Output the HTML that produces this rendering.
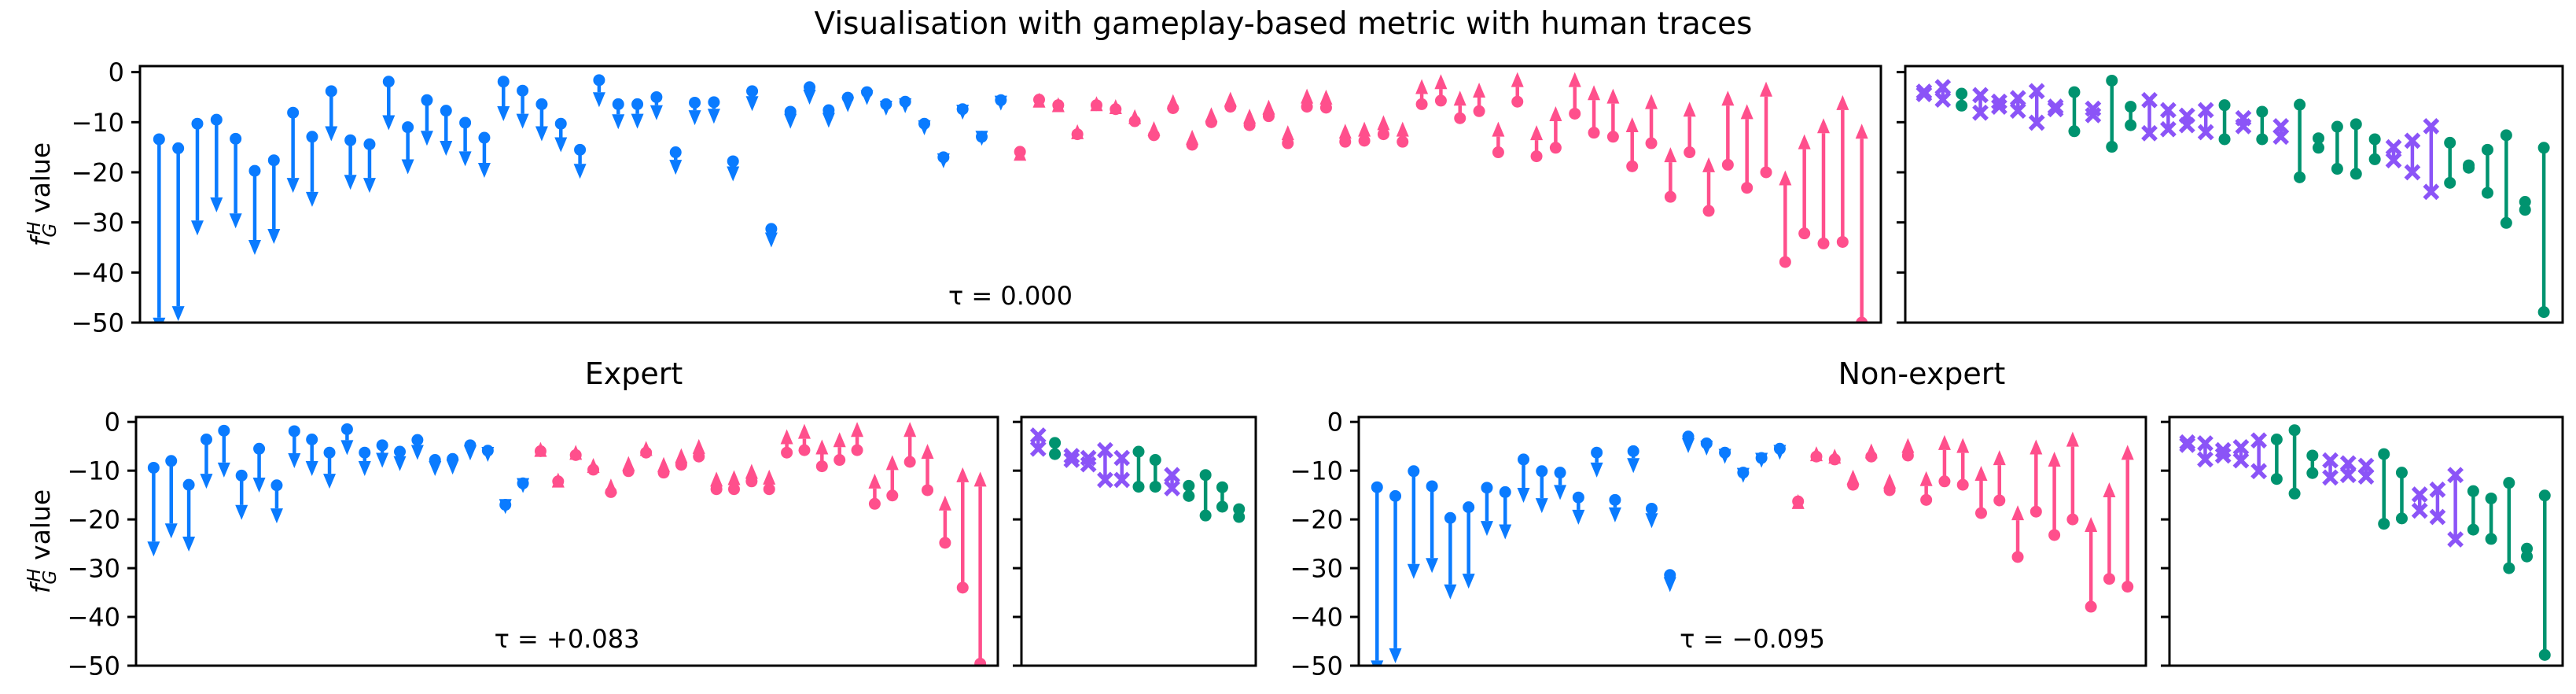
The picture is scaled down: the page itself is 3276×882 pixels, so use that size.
<!DOCTYPE html>
<html><head><meta charset="utf-8">
<style>
html,body{margin:0;padding:0;background:#fff;}
svg{display:block;font-family:"DejaVu Sans","Liberation Sans",sans-serif;}
</style></head>
<body>
<svg id="fig" width="3276" height="882" viewBox="0 0 3276 882" xmlns="http://www.w3.org/2000/svg">
<text x="1632" y="43" font-size="39" text-anchor="middle">Visualisation with gameplay-based metric with human traces</text>
<text x="806" y="488" font-size="38" text-anchor="middle">Expert</text>
<text x="2444" y="488" font-size="38" text-anchor="middle">Non-expert</text>
</svg>
<script>
// ===== Data =====
const yTicks = [0, -10, -20, -30, -40, -50];
const yTickLabels = ["0", "\u221210", "\u221220", "\u221230", "\u221240", "\u221250"];

// Top main panel (all traces): start value (dot) and end value (arrow tip)
const topStart = [-13.4,-15.2,-10.3,-9.5,-13.3,-19.7,-17.6,-8.1,-12.9,-3.8,-13.6,-14.4,-1.9,-11.0,-5.6,-7.7,-10.1,-13.1,-1.9,-3.7,-6.4,-10.3,-15.5,-1.6,-6.4,-6.4,-5.0,-16.0,-6.1,-6.0,-17.8,-3.8,-31.3,-7.9,-3.0,-7.6,-5.1,-4.0,-6.4,-5.9,-10.3,-17.0,-7.4,-12.9,-5.6,
 -15.9,-5.5,-6.6,-12.4,-6.6,-7.4,-9.8,-12.6,-7.2,-14.5,-10.0,-6.9,-10.6,-8.8,-14.2,-6.9,-7.1,-13.9,-13.7,-12.4,-13.9,-6.4,-5.7,-9.2,-7.8,-16.0,-5.9,-16.8,-15.1,-8.3,-12.1,-12.9,-18.8,-14.2,-24.9,-16.0,-27.7,-18.5,-23.1,-20.0,-37.9,-32.2,-34.2,-33.9,-50];
const topEnd = [-52,-49.7,-32.6,-28,-31.2,-36.5,-34.3,-24.1,-26.9,-13.8,-23.5,-24.1,-11.6,-20.4,-14.7,-16.7,-18.8,-21.1,-9.8,-11.3,-13.8,-16.0,-21.3,-7.0,-11.4,-11.3,-9.6,-20.5,-10.6,-10.3,-21.8,-7.8,-35.0,-11.3,-6.5,-11.1,-8.0,-6.6,-8.7,-8.2,-12.6,-19.2,-9.5,-14.7,-7.7,
 -14.7,-4.1,-5.0,-10.4,-4.8,-5.4,-7.4,-9.8,-4.4,-11.5,-7.0,-3.9,-7.3,-5.5,-10.6,-3.3,-3.5,-10.3,-9.9,-8.6,-9.9,-1.4,-0.4,-3.7,-2.1,-9.9,0,-10.6,-6.8,0,-2.6,-3.3,-9.0,-4.4,-15.0,-5.9,-17.0,-3.7,-6.4,-1.9,-19.6,-12.4,-9.2,-4.6,-10.3];

// Top small panel (pairs): type X = purple cross, G = green dot
const topPairType = ["X","X","G","X","X","X","X","X","G","X","G","G","X","X","X","X","G","X","G","X","G","G","G","G","G","X","X","X","G","G","G","G","G","G"];
const topPairA = [-3.9,-3.0,-4.3,-4.6,-5.9,-5.2,-3.8,-6.9,-4.0,-7.3,-1.7,-6.9,-5.6,-7.6,-8.7,-7.6,-6.6,-9.2,-7.9,-10.8,-6.5,-13.2,-10.9,-10.4,-13.4,-15.0,-13.7,-10.8,-14.1,-18.6,-15.5,-12.6,-25.9,-15.1];
const topPairB = [-4.4,-5.5,-6.7,-8.1,-6.9,-7.7,-10.1,-7.4,-11.8,-8.6,-14.9,-10.6,-12.2,-11.4,-10.6,-12.0,-13.4,-10.8,-13.4,-12.9,-21.0,-15.1,-19.3,-20.3,-17.4,-17.6,-20.0,-23.9,-22.1,-19.1,-24.1,-30.1,-27.5,-47.9];

// Expert main panel
const expStart = [-9.4,-8.0,-12.9,-3.6,-1.8,-11.0,-5.5,-13.0,-1.9,-3.6,-6.3,-1.5,-6.3,-4.8,-6.1,-3.7,-7.8,-7.6,-4.8,-5.9,-17.0,-12.6,
 -6.0,-12.2,-6.8,-9.8,-14.4,-10.1,-6.3,-10.4,-8.8,-7.1,-13.8,-13.8,-12.2,-13.8,-6.3,-5.8,-9.1,-7.8,-5.8,-16.8,-15.1,-8.2,-14.0,-24.8,-34.0,-49.6];
const expEnd = [-27.6,-23.9,-26.6,-13.7,-11.4,-20.1,-14.5,-20.8,-9.5,-11.1,-13.7,-6.8,-11.1,-9.4,-10.1,-7.8,-11.1,-10.8,-7.9,-8.2,-18.9,-14.6,
 -4.1,-10.4,-4.7,-7.4,-11.6,-7.0,-3.9,-7.2,-5.4,-3.5,-10.2,-9.9,-8.6,-9.8,-1.5,-0.4,-3.6,-2.1,0,-10.6,-6.8,0,-4.5,-15.1,-9.3,-10.2];
const expPairType = ["X","G","X","X","X","X","G","G","X","G","G","G","G"];
const expPairA = [-2.8,-4.3,-7.0,-7.4,-5.8,-7.4,-6.1,-7.8,-10.9,-13.1,-10.9,-13.4,-17.9];
const expPairB = [-5.5,-6.6,-7.8,-8.7,-11.9,-11.9,-13.3,-13.3,-13.6,-15.2,-19.2,-17.4,-19.5];

// Non-expert main panel
const nonStart = [-13.4,-15.2,-10.1,-13.2,-19.7,-17.5,-13.5,-14.4,-7.7,-10.1,-10.4,-15.5,-6.3,-16.0,-6.0,-17.8,-31.4,-3.0,-4.4,-6.3,-10.4,-7.4,-5.5,
 -16.3,-7.1,-7.7,-12.9,-7.1,-14.0,-6.9,-16.0,-12.2,-12.9,-18.7,-16.1,-27.7,-18.4,-23.2,-20.0,-37.9,-32.2,-33.8];
const nonEnd = [-52,-49.5,-32.2,-31.0,-36.4,-34.2,-23.4,-24.1,-16.6,-18.7,-16.0,-21.1,-11.4,-20.6,-10.5,-21.8,-34.9,-6.4,-6.9,-8.6,-12.5,-9.4,-7.8,
 -14.8,-5.0,-5.5,-9.8,-4.4,-10.6,-3.3,-10.1,-2.7,-3.3,-9.0,-5.8,-17.1,-3.6,-6.1,-2.0,-19.5,-12.4,-4.7];
const nonPairType = ["X","X","X","X","X","G","G","G","X","X","X","G","G","X","X","X","G","G","G","G","G"];
const nonPairA = [-4.2,-4.4,-5.8,-5.2,-3.8,-3.6,-1.7,-6.9,-7.9,-8.5,-9.0,-6.6,-10.4,-14.9,-13.9,-10.9,-14.2,-15.7,-12.5,-26.0,-15.1];
const nonPairB = [-4.7,-7.7,-6.9,-7.9,-10.1,-11.7,-14.7,-10.5,-11.4,-10.9,-11.2,-20.9,-19.8,-18.2,-19.5,-24.1,-22.1,-24.0,-30.0,-27.6,-47.8];

const tauTop = "\u03C4 = 0.000";
const tauExp = "\u03C4 = +0.083";
const tauNon = "\u03C4 = \u22120.095";

// ===== Drawing =====
const NS = "http://www.w3.org/2000/svg";
const svg = document.getElementById("fig");
const BLUE = "#0a7bff", PINK = "#ff4f8c", GREEN = "#00936f", PURPLE = "#8b54f7";

function mk(tag, attrs, parent) {
  const e = document.createElementNS(NS, tag);
  for (const k in attrs) e.setAttribute(k, attrs[k]);
  (parent || svg).appendChild(e);
  return e;
}
let clipId = 0;
function makeAxes(L, R, T, B, ymax, name, withLabels, tau, ylabel) {
  const g = mk("g", {});
  
  
  const ymin = -50;
  const ys = v => T + (ymax - v) * (B - T) / (ymax - ymin);
  const cid = "clip" + (clipId++);
  const cp = mk("clipPath", {id: cid}, g);
  mk("rect", {x: L, y: T, width: R - L, height: B - T}, cp);
  const plot = mk("g", {"clip-path": "url(#" + cid + ")"}, g);
  
  
  yTicks.forEach((t, i) => {
    const y = ys(t);
    const tk = mk("line", {x1: L - 11, x2: L, y1: y, y2: y, stroke: "#000", "stroke-width": 3}, g);
    
    
    if (withLabels) {
      const tl = mk("text", {x: L - 20, y: y + 11.5, "font-size": 32, "text-anchor": "end"}, g);
      tl.textContent = yTickLabels[i];
      
      
    }
  });
  const fr = mk("rect", {x: L, y: T, width: R - L, height: B - T, fill: "none", stroke: "#000", "stroke-width": 3}, g);
  
  
  if (tau) {
    const tt = mk("text", {x: (L + R) / 2, y: B - 23, "font-size": 32, "text-anchor": "middle"}, g);
    tt.textContent = tau;
    
    
  }
  if (ylabel) {
    const cy = (T + B) / 2;
    const yl = mk("text", {x: 0, y: 0, "font-size": 33, "text-anchor": "middle", transform: "translate(63," + cy + ") rotate(-90)"}, g);
    
    
    const t1 = mk("tspan", {"font-style": "italic"}, yl); t1.textContent = "f";
    const t2 = mk("tspan", {"font-style": "italic", "font-size": 23, dy: 8}, yl); t2.textContent = "G";
    const t3 = mk("tspan", {"font-style": "italic", "font-size": 23, dx: -15, dy: -20}, yl); t3.textContent = "H";
    const t4 = mk("tspan", {dy: 12}, yl); t4.textContent = " value";
  }
  return {plot, ys, xs: (i, n) => L + (i + 1) * (R - L) / (n + 1)};
}

function drawArrows(ax, starts, ends, name) {
  const n = starts.length;
  for (let i = 0; i < n; i++) {
    const x = ax.xs(i, n);
    const s = starts[i], e = ends[i];
    const down = e < s;
    const col = down ? BLUE : PINK;
    const ys = ax.ys(s), ye = ax.ys(e);
    const dir = down ? 1 : -1;
    const hl = 19, hw = 8;
    const g = mk("g", {}, ax.plot);
    
    
    const base = ye - dir * hl;
    if ((base - ys) * dir > 0) {
      mk("line", {x1: x, x2: x, y1: ys, y2: base, stroke: col, "stroke-width": 4.5}, g);
    }
    mk("polygon", {points: (x - hw) + "," + base + " " + (x + hw) + "," + base + " " + x + "," + ye, fill: col}, g);
    mk("circle", {cx: x, cy: ys, r: 7.5, fill: col}, g);
  }
}
function xMark(x, y, col, g) {
  const d = 6.5;
  mk("path", {d: "M" + (x - d) + " " + (y - d) + "L" + (x + d) + " " + (y + d) + "M" + (x + d) + " " + (y - d) + "L" + (x - d) + " " + (y + d), stroke: col, "stroke-width": 5.5, "stroke-linecap": "square", fill: "none"}, g);
}
function drawPairs(ax, types, A, B, name) {
  const n = types.length;
  for (let i = 0; i < n; i++) {
    const x = ax.xs(i, n);
    const col = types[i] === "X" ? PURPLE : GREEN;
    const ya = ax.ys(A[i]), yb = ax.ys(B[i]);
    const g = mk("g", {}, ax.plot);
    
    
    mk("line", {x1: x, x2: x, y1: ya, y2: yb, stroke: col, "stroke-width": 4.5}, g);
    if (types[i] === "X") { xMark(x, ya, col, g); xMark(x, yb, col, g); }
    else { mk("circle", {cx: x, cy: ya, r: 7.5, fill: col}, g); mk("circle", {cx: x, cy: yb, r: 7.5, fill: col}, g); }
  }
}

const axTop = makeAxes(178, 2392, 84, 410, 1.2, "all-main-panel", true, tauTop, true);
drawArrows(axTop, topStart, topEnd, "all");
const axTopS = makeAxes(2423, 3259, 84, 410, 1.2, "all-side-panel", false, null, false);
drawPairs(axTopS, topPairType, topPairA, topPairB, "all-side");

const axExp = makeAxes(173, 1269, 530, 846, 1.0, "expert-main-panel", true, tauExp, true);
drawArrows(axExp, expStart, expEnd, "expert");
const axExpS = makeAxes(1299, 1597, 530, 846, 1.0, "expert-side-panel", false, null, false);
drawPairs(axExpS, expPairType, expPairA, expPairB, "expert-side");

const axNon = makeAxes(1728, 2729, 530, 846, 1.0, "non-expert-main-panel", true, tauNon, false);
drawArrows(axNon, nonStart, nonEnd, "non-expert");
const axNonS = makeAxes(2759, 3259, 530, 846, 1.0, "non-expert-side-panel", false, null, false);
drawPairs(axNonS, nonPairType, nonPairA, nonPairB, "non-expert-side");
</script>
</body></html>
